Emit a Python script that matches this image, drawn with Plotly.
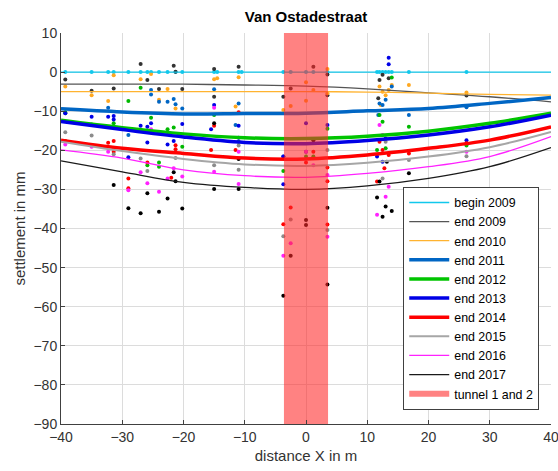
import plotly.graph_objects as go

# ---------------- data ----------------
curve_x = [-40, -30, -20, -10, 0, 10, 20, 30, 40]

names = ["begin 2009", "end 2009", "end 2010", "end 2011", "end 2012",
         "end 2013", "end 2014", "end 2015", "end 2016", "end 2017"]

curve_begin2009 = [0, 0, 0, 0, 0, 0, 0, 0, 0]
curve_end2009 = [-3.1, -3.1, -3.1, -3.3, -3.6, -4.3, -5.3, -6.3, -7.6]
curve_end2010 = [-5.0, -5.0, -5.0, -5.0, -5.0, -5.1, -5.4, -5.7, -5.9]
curve_end2011 = [-9.4, -10.2, -10.7, -10.6, -10.5, -9.9, -9.3, -8.0, -6.5]
curve_end2012 = [-12.3, -14.2, -15.8, -16.8, -17.0, -16.4, -15.1, -13.1, -10.5]
curve_end2013 = [-12.6, -14.7, -16.6, -18.0, -18.3, -17.5, -16.1, -14.0, -11.0]
curve_end2014 = [-17.4, -19.5, -20.8, -22.0, -22.2, -21.2, -19.5, -17.4, -14.0]
curve_end2015 = [-17.8, -20.2, -22.2, -23.6, -24.0, -23.2, -21.6, -19.2, -15.3]
curve_end2016 = [-19.9, -22.0, -25.0, -26.5, -26.9, -25.9, -24.2, -21.6, -16.5]
curve_end2017 = [-22.7, -25.5, -28.2, -29.5, -30.0, -29.1, -27.2, -24.2, -19.3]

# measured points
pts_begin2009_x = [-39.3, -35, -32.3, -31.4, -29, -27, -25.9, -25.3, -24, -22.6, -21.3,
                   -20.2, -15, -14.5, -11, -10.5, -3.7, -2.5, 0, 1.2, 3.5,
                   11.6, 12, 12.5, 13, 13.5, 14, 16.8, 26.2]
pts_begin2009_y = [0] * 29

pts_end2009_x = [-39.3, -35, -31.4, -27, -25.9, -24, -21.6, -21.3, -20.2, -15, -15,
                 -11, -3.7, -2.5, 1.2, 3.5, 3.5, 12, 12.5, 13.5, 11.8, 26.2]
pts_end2009_y = [-1.9, -4.8, -4.2, 2.1, -2.0, -4.3, 1.6, 0.1, -4.3, 0.8, -6.3,
                 1.4, -6.3, -4.2, 1.4, -0.6, -5.9, -2.0, -0.7, -1.6, -6.7, -6.0]

pts_end2010_x = [-39.3, -35, -32.3, -31.4, -27, -25.3, -22.6, -24, -21.3, -15, -14.5,
                 -11, -11.5, -3.7, -2.5, 0, 0, 1.2, 3.5, 3.5, 12, 12.5, 13, 13.5,
                 12.2, 14, 16.8, 26.2]
pts_end2010_y = [-3.7, -5.9, -7.4, -0.8, -1.8, -0.5, -4.3, -7.1, -9.3, -1.8, -1.6,
                 -1.3, -8.8, -9.7, -8.7, -2.6, -7.3, -4.6, 0.8, -5.4, -3.7, -5.0,
                 -5.9, -4.6, -8.4, -3.3, -3.3, -5.2]

pts_end2011_x = [-39.3, -32.3, -25.3, -25.3, -24, -22.6, -21.6, -21.3, -29, -20.2,
                 -15, -11, -11.5, -3.7, 12, 12.5, 13, 11.8, 14, 16.8, 26.2]
pts_end2011_y = [-10.5, -9.1, -4.6, -5.7, -7.6, -7.6, -6.9, -8.2, -16.1, -9.3,
                 -4.4, -8.0, -13.5, -21.6, -8.0, -8.4, -7.1, -11.0, -3.7, -11.0, -9.0]

pts_end2012_x = [-39.3, -35, -31.4, -29, -27, -25.3, -22.6, -21.6, -24, -24, -25.9,
                 -20.2, -15, -11, -3.7, 0, 1.2, 3.5, 12, 12.5, 13, 11.6, 14, 16.8, 26.2]
pts_end2012_y = [-10.3, -13.4, -13.1, -7.4, -4.0, -11.7, -14.6, -14.2, -23.1, -24.2, -23.8,
                 -19.1, -11.0, -17.8, -25.3, -21.6, -21.6, -14.5, -11.0, -12.7, -19.5,
                 -19.9, -1.4, -14.0, -18.8]

pts_end2013_x = [-39.3, -35, -32.3, -31.4, -31.4, -27, -25.9, -25.3, -22.6, -21.6,
                 -25.9, -29, -20.2, -15, -15.5, -11, -11, -3.7, -3.7, 0, 0, 3.5,
                 13.5, 13.5, 12.5, 11.6, 13, 26.2]
pts_end2013_y = [-10.5, -11.4, -11.4, -11.2, -12.1, -13.7, -14.0, -13.1, -18.5, -17.6,
                 -18.0, -21.8, -13.3, -8.4, -14.6, -13.7, -16.8, -21.6, -28.7, -13.1,
                 -20.4, -13.5, 3.7, 2.0, -22.9, -21.6, -17.0, -17.4]

pts_end2014_x = [-39.3, -32.3, -31.4, -31.4, -25.9, -29, -29, -21.3, -21.3, -22,
                 -15, -15.5, -11, -11.5, -3.7, -2.5, 0, 1.2, 3.5, 3.5, 3.5,
                 11.6, 12, 12.5, 13.5, 12.8, 16.8, 26.2]
pts_end2014_y = [-17.6, -18.1, -17.6, -20.4, -23.1, -27.2, -29.7, -18.7, -19.7, -27.0,
                 -13.7, -19.9, -10.3, -19.9, -38.9, -34.6, -23.1, -20.4, -27.9, -39.0,
                 -24.4, -28.0, -17.8, -19.9, -21.2, -24.6, -20.8, -18.2]

pts_end2015_x = [-39.3, -35, -31.4, -27, -25.9, -21.3, -15, -11, -11, -3.7, -2.5,
                 3.5, 3.5, 12.5, 13, 16.8, 26.2]
pts_end2015_y = [-15.4, -16.2, -21.0, -22.1, -25.3, -22.0, -23.8, -25.0, -18.8, -42.0,
                 -37.7, -40.4, -19.9, -27.2, -17.8, -22.5, -21.5]

pts_end2016_x = [-39.3, -35, -32.3, -27, -25.9, -29, -24, -21.6, -22.6, -25.3, -20.2,
                 -15, -15, -11, -11, -3.7, -2.5, 0, 1.2, 3.5, 3.5, 12, 11.6, 13.5,
                 13, 12.5, 26.2]
pts_end2016_y = [-18.5, -19.1, -20.4, -25.6, -28.4, -30.2, -30.6, -24.6, -27.2, -14.6,
                 -26.7, -25.5, -9.1, -20.4, -28.6, -47.0, -43.8, -20.4, -23.8, -42.1,
                 -26.3, -13.5, -36.5, -29.3, -31.9, -16.1, -20.4]

pts_end2017_x = [-31.4, -29, -27, -24, -22.6, -25.9, -21.6, -21.3, -20.2, -15, -15,
                 -11, -11, -3.7, -2.5, 0, 0, 3.5, 3.5, 1.2, 11.6, 12, 13, 12.5, 14,
                 13.2, 16.8, 26.2]
pts_end2017_y = [-28.9, -34.8, -36.1, -35.7, -32.3, -31.0, -25.6, -27.9, -34.9, -29.9,
                 -13.1, -29.9, -22.2, -57.2, -47.0, -37.8, -39.1, -34.7, -54.3, -17.4,
                 -32.1, -28.0, -34.4, -37.0, -35.5, -22.9, -25.9, -29.9]

tunnel_x = [-3.6, 3.6]
y_range = [-90, 10]

# ---------------- styles ----------------
colors = ["#12c8ec", "#555555", "#ffb330", "#0066c4", "#00c400",
          "#0000e6", "#ff0000", "#a6a6a6", "#ff22ff", "#1a1a1a"]
dot_colors = ["#12c8ec", "#333333", "#ffa820", "#0066c4", "#00b800",
              "#0000e6", "#ff0000", "#8c8c8c", "#ff22ff", "#000000"]
widths = [1.3, 1.3, 1.3, 3.5, 3.5, 3.5, 3.5, 2.0, 1.3, 1.3]

curves = [curve_begin2009, curve_end2009, curve_end2010, curve_end2011, curve_end2012,
          curve_end2013, curve_end2014, curve_end2015, curve_end2016, curve_end2017]
pts_x = [pts_begin2009_x, pts_end2009_x, pts_end2010_x, pts_end2011_x, pts_end2012_x,
         pts_end2013_x, pts_end2014_x, pts_end2015_x, pts_end2016_x, pts_end2017_x]
pts_y = [pts_begin2009_y, pts_end2009_y, pts_end2010_y, pts_end2011_y, pts_end2012_y,
         pts_end2013_y, pts_end2014_y, pts_end2015_y, pts_end2016_y, pts_end2017_y]

fig = go.Figure()

for i in range(len(names)):
    fig.add_trace(go.Scatter(
        x=pts_x[i], y=pts_y[i], mode="markers",
        marker=dict(size=4, color=dot_colors[i]),
        showlegend=False, hoverinfo="skip"))

for i in range(len(names)):
    fig.add_trace(go.Scatter(
        x=curve_x, y=curves[i], mode="lines", name=names[i],
        line=dict(color=colors[i], width=widths[i], shape="spline", smoothing=1.0)))

fig.add_trace(go.Scatter(
    x=[tunnel_x[0], tunnel_x[1], tunnel_x[1], tunnel_x[0], tunnel_x[0]],
    y=[y_range[0], y_range[0], y_range[1], y_range[1], y_range[0]],
    mode="none", fill="toself", fillcolor="rgba(255,40,40,0.58)",
    name="tunnel 1 and 2", hoverinfo="skip"))

FONT = "Liberation Sans, Arial, sans-serif"
axis_common = dict(
    showgrid=True, gridcolor="#dcdcdc", gridwidth=1,
    zeroline=False, showline=True, linecolor="#404040", linewidth=1,
    ticks="inside", ticklen=4, tickcolor="#404040",
    tickfont=dict(family=FONT, size=14, color="#333333"),
    ticklabeloverflow="allow", automargin=False,
)

fig.update_layout(
    width=558, height=471,
    margin=dict(l=61, r=7, t=33, b=47),
    paper_bgcolor="white", plot_bgcolor="white",
    title=dict(text="<b>Van Ostadestraat</b>", x=0.5, xref="paper", y=0.965, yanchor="middle",
               font=dict(family=FONT, size=15, color="#000000")),
    xaxis=dict(range=[-40, 40], dtick=10, tick0=-40,
               title=dict(text="distance X in m", standoff=6,
                          font=dict(family=FONT, size=15, color="#333333")),
               **axis_common),
    yaxis=dict(range=y_range, dtick=10, tick0=-90,
               title=dict(text="settlement in mm", standoff=4,
                          font=dict(family=FONT, size=15, color="#333333")),
               **axis_common),
    legend=dict(x=0.976, xanchor="right", y=0.036, yanchor="bottom",
                bgcolor="white", bordercolor="#404040", borderwidth=1,
                font=dict(family=FONT, size=12.4, color="#000000"),
                tracegroupgap=0, itemwidth=40),
    showlegend=True,
)

fig.write_html("out.html")
